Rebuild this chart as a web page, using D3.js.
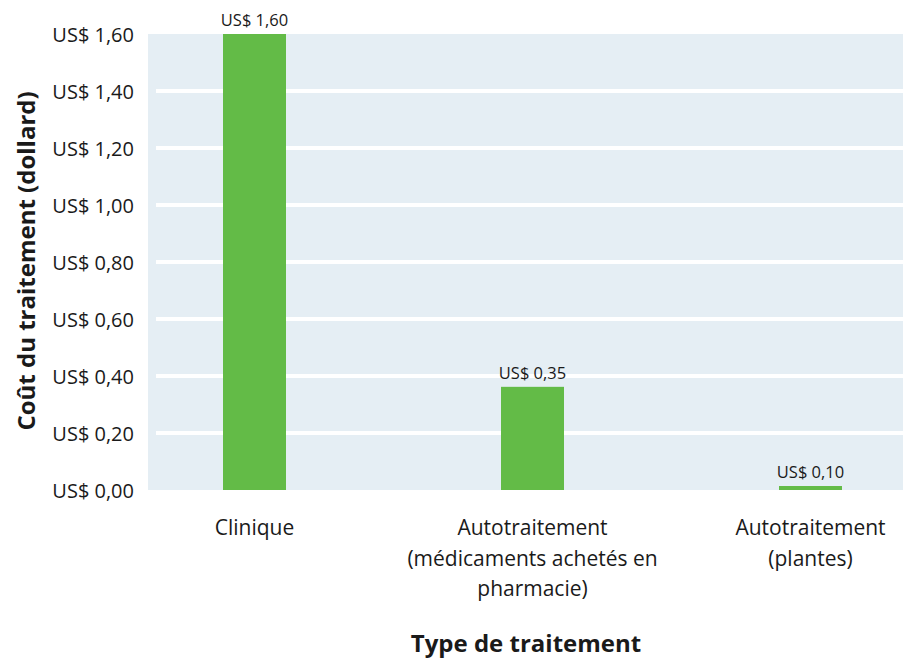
<!DOCTYPE html>
<html lang="fr">
<head>
<meta charset="utf-8">
<title>Coût du traitement</title>
<script src="https://cdn.jsdelivr.net/npm/d3@7"></script>
<style>
  body { margin: 0; background: #fff; }
  svg text { font-family: "Open Sans", "Noto Sans", sans-serif; fill: #1a1a1a; }
</style>
</head>
<body>
<div id="chart"></div>
<script>
// données
const categories = ["Clinique", "Autotraitement (médicaments achetés en pharmacie)", "Autotraitement (plantes)"];
const labelLines = [["Clinique"], ["Autotraitement", "(médicaments achetés en", "pharmacie)"], ["Autotraitement", "(plantes)"]];
const values = [1.60, 0.362, 0.014];
const valueLabels = ["US$ 1,60", "US$ 0,35", "US$ 0,10"];
const yTicks = [0, 0.2, 0.4, 0.6, 0.8, 1.0, 1.2, 1.4, 1.6];

const width = 903, height = 662;
const plotL = 148, plotT = 34, plotB = 490, plotR = 903;

const svg = d3.select("#chart").append("svg")
  .attr("width", width)
  .attr("height", height);

// échelles
const x = d3.scalePoint()
  .domain(categories)
  .range([115.5, 949.5])
  .padding(0.5);

const y = d3.scaleLinear()
  .domain([0, 1.6])
  .range([plotB, plotT]);

const barW = 63;
const fmt = v => "US$ " + v.toFixed(2).replace(".", ",");

// fond de la zone de tracé
svg.append("rect")
  .attr("x", plotL).attr("y", plotT)
  .attr("width", plotR - plotL).attr("height", plotB - plotT)
  .attr("fill", "#e5eef4");

// lignes de grille
svg.append("g")
  .selectAll("line")
  .data(yTicks.filter(d => d > 0 && d < 1.6))
  .join("line")
  .attr("x1", plotL + 8).attr("x2", plotR)
  .attr("y1", d => y(d)).attr("y2", d => y(d))
  .attr("stroke", "#fff")
  .attr("stroke-width", 4);

// axe Y
const yAxis = svg.append("g")
  .attr("transform", `translate(${plotL - 14},0)`)
  .call(d3.axisLeft(y).tickValues(yTicks).tickFormat(fmt).tickSize(0).tickPadding(0));
yAxis.select(".domain").remove();
yAxis.selectAll("text")
  .attr("font-size", 20)
  .attr("dy", "0.36em")
  .style("font-family", '"Open Sans", sans-serif')
  .attr("fill", "#1a1a1a");

// barres
svg.append("g")
  .selectAll("rect")
  .data(values)
  .join("rect")
  .attr("x", (d, i) => x(categories[i]) - barW / 2)
  .attr("y", d => y(d))
  .attr("width", barW)
  .attr("height", d => y(0) - y(d))
  .attr("fill", "#63bb47");

// étiquettes de valeurs
svg.append("g")
  .selectAll("text")
  .data(values)
  .join("text")
  .attr("x", (d, i) => x(categories[i]))
  .attr("y", d => y(d) - 8)
  .attr("text-anchor", "middle")
  .attr("font-size", 16.5)
  .text((d, i) => valueLabels[i]);

// étiquettes de catégories
const cat = svg.append("g")
  .selectAll("text")
  .data(categories)
  .join("text")
  .attr("x", d => x(d))
  .attr("y", 535)
  .attr("text-anchor", "middle")
  .attr("font-size", 21);
cat.selectAll("tspan")
  .data((d, i) => labelLines[i])
  .join("tspan")
  .attr("x", function () { return d3.select(this.parentNode).attr("x"); })
  .attr("dy", (d, i) => i === 0 ? 0 : 30.5)
  .text(d => d);

// titres des axes
svg.append("text")
  .attr("x", 526).attr("y", 652)
  .attr("text-anchor", "middle")
  .attr("font-size", 24)
  .attr("font-weight", "bold")
  .text("Type de traitement");

svg.append("text")
  .attr("transform", `translate(35,261) rotate(-90)`)
  .attr("text-anchor", "middle")
  .attr("font-size", 24)
  .attr("font-weight", "bold")
  .text("Coût du traitement (dollard)");
</script>
</body>
</html>
